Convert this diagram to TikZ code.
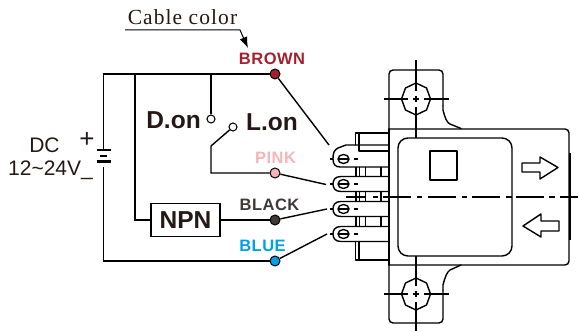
\documentclass[tikz,border=0pt]{standalone}
\usepackage{fontspec}
\setmainfont{Liberation Sans}
\newfontfamily\capfont[LetterSpace=5]{Liberation Serif}
\newfontfamily\labfont[LetterSpace=3]{Liberation Sans}
\usetikzlibrary{arrows.meta}
\definecolor{ink}{HTML}{231815}
\definecolor{cbrown}{HTML}{A3202E}
\definecolor{cpink}{HTML}{F5B4B8}
\definecolor{cblack}{HTML}{3E3A39}
\definecolor{cblue}{HTML}{00A0E9}
\tikzset{
  wire/.style={line width=1.4pt,black},
  part/.style={line width=1.4pt,black,line cap=round,line join=round},
  thin part/.style={line width=1.15pt,black},
  dot/.style={circle,draw=black,line width=1pt,inner sep=0pt,minimum size=10pt},
  contact/.style={circle,draw=black,fill=white,line width=1.05pt,inner sep=0pt,minimum size=8pt},
  lab/.style={inner sep=0pt,font=\fontsize{16.5}{16.5}\selectfont\bfseries\labfont},
  big/.style={inner sep=0pt,text=ink,font=\fontsize{24.5}{24.5}\selectfont\bfseries},
  reg/.style={inner sep=0pt,text=ink,font=\fontsize{21}{21}\selectfont},
  plate/.style={line width=2pt,black},
  plateb/.style={line width=3pt,black}
}
\begin{document}
\begin{tikzpicture}[x=1pt,y=-1pt]
\useasboundingbox (0,0) rectangle (578,331);
% texts
\node[inner sep=0pt,text=ink,font=\fontsize{21.5}{21.5}\selectfont\capfont] (title) at (182.5,17) {Cable color};
\node[lab,text=cbrown] (lbrown) at (272,59) {BROWN};
\node[lab,text=cpink] (lpink) at (275.5,158) {PINK};
\node[lab,text=cblack] (lblack) at (269.5,205) {BLACK};
\node[lab,text=cblue] (lblue) at (262.5,246) {BLUE};
\node[big] (don) at (173.5,120) {D.on};
\node[big] (lon) at (272,122.5) {L.on};
\node[reg] (dc) at (44.5,145.5) {DC};
\node[reg] (volt) at (50.5,170) {12\textasciitilde 24V\_};
\node[reg,font=\fontsize{26}{26}\selectfont] (plus) at (87,140) {+};
% dots
\node[dot,fill=cbrown] (brown) at (275,74) {};
\node[dot,fill=cpink] (pink) at (275,173) {};
\node[dot,fill=cblack] (black) at (275,220) {};
\node[dot,fill=cblue] (blue) at (275,261) {};
\node[contact] (cd) at (211,119) {};
\node[contact] (cl) at (233,127) {};
\node[draw=black,line width=1.3pt,minimum width=69pt,minimum height=33pt,inner sep=0pt,text=ink,font=\fontsize{24.5}{24.5}\selectfont\bfseries] (npn) at (185.5,220) {NPN};
% free ends
\coordinate (tb) at (329,145);
\coordinate (tp) at (326,184.5);
\coordinate (tk) at (327,209);
\coordinate (tl) at (327,234);
\coordinate (battop) at (103.5,150);
\coordinate (batbot) at (103.5,167);
\coordinate (j1) at (103.5,74);
\coordinate (j2) at (135,74);
\coordinate (j3) at (211,74);
\coordinate (arrs) at (125,30);
\coordinate (arrm) at (240,30);
\coordinate (arre) at (248,48);
% cable arrow
\draw[line width=1pt,-{Latex[length=11pt,width=8pt]}] (arrs) -- (arrm) -- (arre);
% wiring
\draw[wire] (brown) -- (j1) -- (battop);
\draw[wire] (batbot) |- (blue);
\draw[wire] (j2) |- (npn.west);
\draw[wire] (npn.east) -- (black);
\draw[wire] (j3) -- (cd);
\draw[wire] (cl) -- (211,146) |- (pink);
\draw[wire] (brown) -- (tb);
\draw[wire] (pink) -- (tp);
\draw[wire] (black) -- (tk);
\draw[wire] (blue) -- (tl);
% battery
\draw[plate] (96.5,150.5) -- (111,150.5);
\draw[plate] (100,156) -- (107,156);
\draw[plateb] (96.5,162) -- (111,162);
% sensor body
\draw[part,rounded corners=4pt] (389,129) -- (389,70) -- (443,70) -- (443,106);
\draw[part] (443,106) -- (443,110) .. controls (445,118) and (447,123) .. (450,124) -- (461,128.5);
\draw[part,rounded corners=4pt] (389,129) -- (569,129) -- (569,265) -- (389,265);
\draw[part,rounded corners=4pt] (389,265) -- (389,323) -- (443,323) -- (443,290);
\draw[part] (443,290) -- (443,285) .. controls (445,277) and (447,272) .. (450,270) -- (461,265);
\draw[part] (389,129) -- (389,265);
\draw[line width=2pt] (570.3,153) -- (570.3,240);
\draw[part,rounded corners=10pt] (398,256) rectangle (512,138);
\draw[part] (430,151) rectangle (457,180);
\draw[part] (522,163) -- (540,163) -- (540,157) -- (558,167.5) -- (540,179) -- (540,172) -- (522,172) -- cycle;
\draw[part] (559,221) -- (541,221) -- (541,214) -- (523,226) -- (541,237) -- (541,231) -- (559,231) -- cycle;
% bolts
\foreach \cy in {99,294}{
  \draw[part] (416,\cy-16) -- (426.5,\cy-11) -- (430.5,\cy) -- (426.5,\cy+11) -- (416,\cy+16) -- (405.5,\cy+11) -- (401.5,\cy) -- (405.5,\cy-11) -- cycle;
  \draw[thin part] (384,\cy) -- (408,\cy);
  \draw[thin part] (424,\cy) -- (449,\cy);
  \draw[thin part] (413,\cy) -- (419,\cy);
  \draw[thin part] (416,\cy-3) -- (416,\cy+3);
}
\draw[thin part] (416,60) -- (416,91);
\draw[thin part] (416,107) -- (416,138);
\draw[thin part] (416,256) -- (416,286);
\draw[thin part] (416,302) -- (416,331);
% centre line
\foreach \a/\b in {346/365,373/378,383/411,417/422,428/456,462/467,472/500,506/512,516/544,549/555,560/578}{
  \draw[thin part] (\a,197) -- (\b,197);
}
% terminal tabs
\draw[part] (389,145) -- (346,145) -- (338,148) .. controls (334,150) and (333,153) .. (333,159) .. controls (333,164) and (335,167) .. (340,167) -- (389,167);
\draw[part] (355.5,145) -- (355.5,133) -- (389,133);
\draw[part] (359,133) -- (359,151) -- (389,151);
\foreach \cy in {184,209,234}{
  \draw[part] (389,\cy-7.5) -- (341,\cy-7.5) .. controls (335,\cy-7.5) and (333,\cy-4) .. (333,\cy) .. controls (333,\cy+4) and (335,\cy+7.5) .. (341,\cy+7.5) -- (389,\cy+7.5);
}
\foreach \cy in {159,184,209,234}{
  \draw[part] (343.5,\cy) ellipse[x radius=5.5,y radius=4.5];
  \draw[thin part] (338,\cy) -- (349,\cy);
  \draw[thin part] (330,\cy) -- (333,\cy);
  \draw[thin part] (354,\cy) -- (358,\cy);
}
\foreach \ya/\yb in {167/176.5,191.5/201.5,216.5/226.5}{
  \foreach \xx in {356,359.5,365.5,381}{
    \draw[thin part] (\xx,\ya) -- (\xx,\yb);
  }
}
\draw[part] (355.5,241.5) -- (355.5,260) -- (389,260);
\draw[part] (359,241.5) -- (359,260);
\end{tikzpicture}
\end{document}
